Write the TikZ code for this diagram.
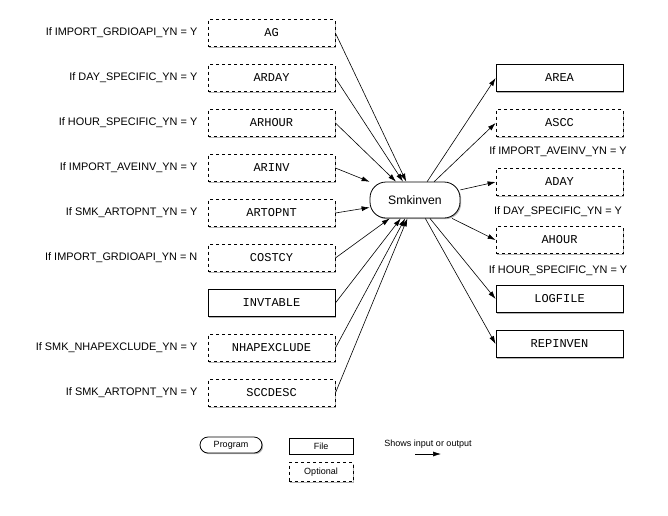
\documentclass[tikz,border=0pt]{standalone}
\usepackage{fontspec}
\setmainfont{Liberation Sans}
\setmonofont{Liberation Mono}
\usepackage{tikz}
\usetikzlibrary{arrows.meta,positioning,shadows}

\begin{document}
\begin{tikzpicture}[x=1pt, y=-1pt, >={Latex[length=8pt,width=5pt]}, semithick, node distance=45pt]
\tikzstyle{every node}=[font=\fontsize{10.9}{12}\selectfont]
\tikzstyle{file}=[draw=black, fill=white, thick, minimum width=127pt, minimum height=27pt,
  font=\ttfamily\fontsize{12}{13}\selectfont, drop shadow={shadow xshift=1.2pt, shadow yshift=-1.2pt, opacity=0.6}]
\tikzstyle{optional}=[file, dashed]
\tikzstyle{program}=[draw=black, fill=white, thick, rounded corners=16pt, minimum width=90pt, minimum height=36pt,
  font=\fontsize{12.2}{14}\selectfont, drop shadow={shadow xshift=1.2pt, shadow yshift=-1.2pt, opacity=0.6}]
\tikzstyle{cond}=[inner sep=0pt]
\useasboundingbox (0,0) rectangle (668,515);

% inputs
\node[optional] (ag) at (271.5,33)         {AG};
\node[optional] (arday)   [below of=ag]      {ARDAY};
\node[optional] (arhour)  [below of=arday]   {ARHOUR};
\node[optional] (arinv)   [below of=arhour]  {ARINV};
\node[optional] (artopnt) [below of=arinv]   {ARTOPNT};
\node[optional] (costcy)  [below of=artopnt] {COSTCY};
\node[file]     (invtable)[below of=costcy]  {INVTABLE};
\node[optional] (nhapex)  [below of=invtable]{NHAPEXCLUDE};
\node[optional] (sccdesc) [below of=nhapex]  {SCCDESC};
\node[cond, left=10pt of ag]      {If IMPORT\_GRDIOAPI\_YN = Y};
\node[cond, left=10pt of arday]   {If DAY\_SPECIFIC\_YN = Y};
\node[cond, left=10pt of arhour]  {If HOUR\_SPECIFIC\_YN = Y};
\node[cond, left=10pt of arinv]   {If IMPORT\_AVEINV\_YN = Y};
\node[cond, left=10pt of artopnt] {If SMK\_ARTOPNT\_YN = Y};
\node[cond, left=10pt of costcy]  {If IMPORT\_GRDIOAPI\_YN = N};
\node[cond, left=10pt of nhapex]  {If SMK\_NHAPEXCLUDE\_YN = Y};
\node[cond, left=10pt of sccdesc] {If SMK\_ARTOPNT\_YN = Y};

% program
\node[program] (smk) at (415,200) {Smkinven};

% outputs
\node[file]     (area)    at (559.5,78)  {AREA};
\node[optional] (ascc)    at (559.5,123) {ASCC};
\node[optional] (aday)    at (559.5,182) {ADAY};
\node[optional] (ahour)   at (559.5,240) {AHOUR};
\node[file]     (logfile) at (559.5,299) {LOGFILE};
\node[file]     (repinven)at (559.5,344) {REPINVEN};
\node (c1) at (558,152) {If IMPORT\_AVEINV\_YN = Y};
\node (c2) at (558,212) {If DAY\_SPECIFIC\_YN = Y};
\node (c3) at (558,271) {If HOUR\_SPECIFIC\_YN = Y};

\foreach \i in {ag,arday,arhour,arinv,artopnt,costcy,invtable,nhapex,sccdesc}
  \draw[->] (\i.east) -- (smk);
\foreach \o in {area,ascc,aday,ahour,logfile,repinven}
  \draw[->] (smk) -- (\o.west);

% legend
\tikzstyle{legend}=[font=\fontsize{9}{10}\selectfont, minimum height=16pt, inner sep=2pt]
\node[program, legend, minimum width=62pt, rounded corners=8pt] (lprog) at (231,445) {Program};
\node[file, legend, font=\fontsize{9}{10}\selectfont, minimum width=64pt] (lfile) at (321,446) {File};
\node[optional, legend, font=\fontsize{9}{10}\selectfont, minimum width=64pt, minimum height=19pt] (lopt) at (321,472) {Optional};
\node[font=\fontsize{9}{10}\selectfont] (lshow) at (428,444) {Shows input or output};
\coordinate (la) at (415,454);
\coordinate (lb) at (441,454);
\draw[->] (la) -- (lb);
\end{tikzpicture}
\end{document}
